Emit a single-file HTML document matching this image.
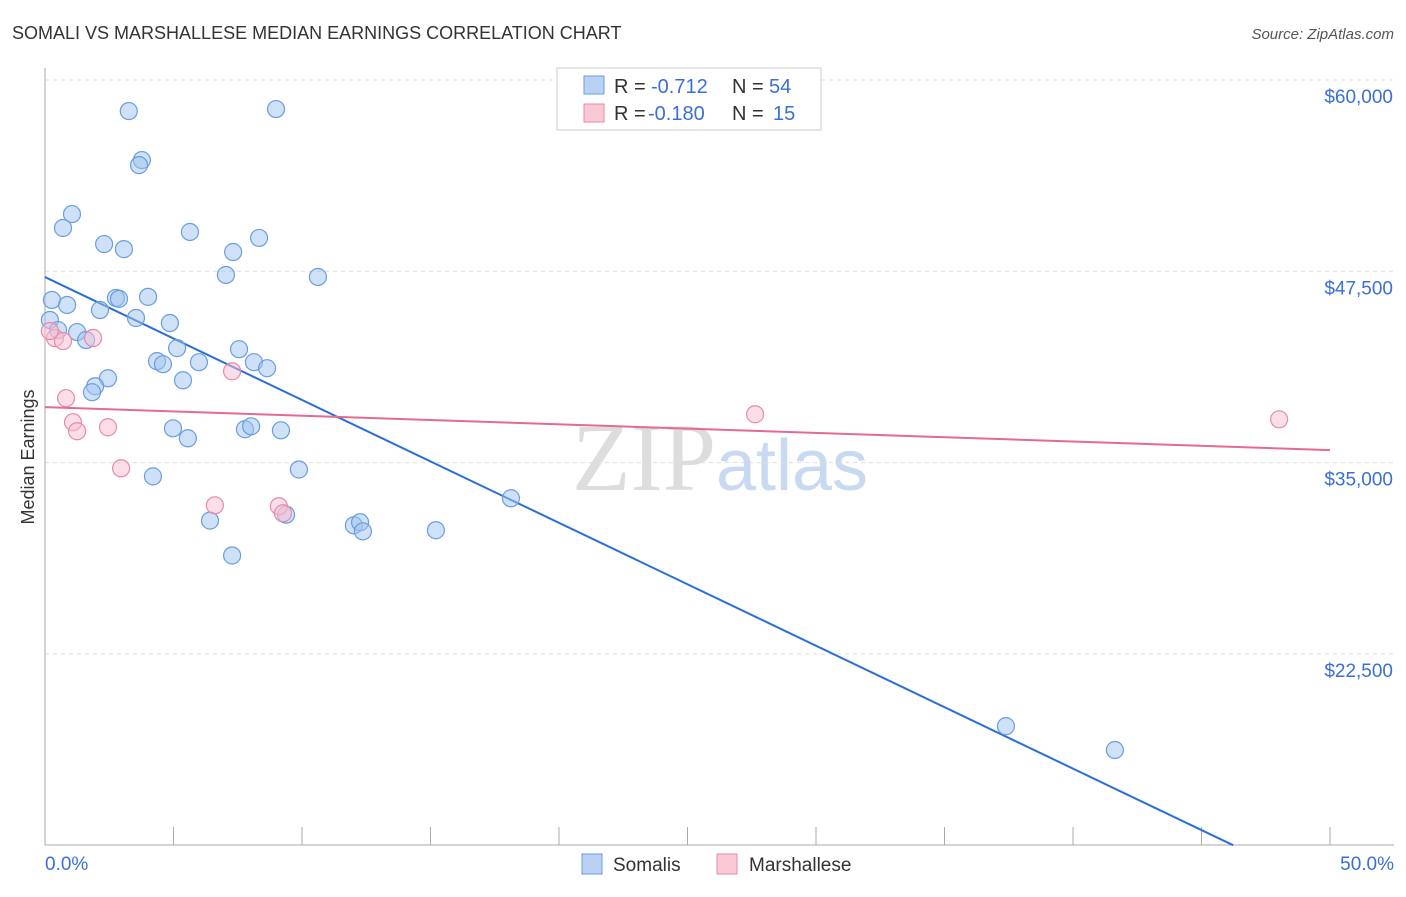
<!DOCTYPE html>
<html><head><meta charset="utf-8"><style>
body{margin:0;background:#fff;width:1406px;height:892px;overflow:hidden;font-family:"Liberation Sans",sans-serif}
</style></head><body>
<svg id="chart" width="1406" height="892" xmlns="http://www.w3.org/2000/svg" font-family="Liberation Sans, sans-serif">
<text x="12" y="39" font-size="18" fill="#333">SOMALI VS MARSHALLESE MEDIAN EARNINGS CORRELATION CHART</text>
<text x="1394" y="39" font-size="15" fill="#555" text-anchor="end" font-style="italic">Source: ZipAtlas.com</text>
<text transform="translate(34,457) rotate(-90)" font-size="18" fill="#333" text-anchor="middle">Median Earnings</text>
<text x="720" y="490" font-size="96" text-anchor="middle" fill="#ddd" font-family="Liberation Serif, serif">ZIP<tspan fill="#c8d9f2" font-family="Liberation Sans, sans-serif" font-size="72">atlas</tspan></text>
<g id="grid"></g><g id="axes"></g><g id="lines"></g><g id="dots"></g>
<g font-size="20">
<rect x="557" y="68" width="264" height="62" fill="#fff" stroke="#ccc"/>
<rect x="584" y="76" width="20" height="18" fill="#b9d1f3" stroke="#6a9de0"/>
<text x="614" y="93" fill="#333">R =</text><text x="651" y="93" fill="#3a6fd8">-0.712</text>
<text x="732" y="93" fill="#333">N =</text><text x="769" y="93" fill="#3a6fd8">54</text>
<rect x="584" y="104" width="20" height="18" fill="#f9c9d6" stroke="#e88aa6"/>
<text x="614" y="120" fill="#333">R =</text><text x="648" y="120" fill="#3a6fd8">-0.180</text>
<text x="732" y="120" fill="#333">N =</text><text x="773" y="120" fill="#3a6fd8">15</text>
</g>
<g>
<rect x="582" y="854" width="20" height="20" fill="#b9d1f3" stroke="#6a9de0"/>
<text x="613" y="871" font-size="19" fill="#333">Somalis</text>
<rect x="717" y="854" width="20" height="20" fill="#f9c9d6" stroke="#e88aa6"/>
<text x="749" y="871" font-size="19" fill="#333">Marshallese</text>
</g>
</svg>
<script>
const yTicks=[60000,47500,35000,22500];
const yTickLabels=["$60,000","$47,500","$35,000","$22,500"];
const xTickLabels=["0.0%","50.0%"];
const somaliX=[3.26,8.99,3.77,3.66,1.05,0.70,2.30,3.07,5.64,7.32,8.33,7.04,10.62,0.27,0.86,2.14,2.76,2.88,4.01,3.54,4.86,0.19,0.51,1.25,1.60,5.14,4.36,4.59,5.99,7.55,8.13,8.64,2.45,1.95,1.83,5.37,4.98,5.56,7.78,8.02,9.18,4.20,9.88,6.42,9.38,7.28,12.02,12.26,12.37,15.21,18.13,37.39,41.63];
const somaliY=[57970,58100,54770,54440,51240,50330,49280,48950,50070,48760,49680,47260,47130,45630,45300,44970,45760,45700,45830,44450,44120,44320,43660,43530,43010,42480,41630,41430,41560,42410,41560,41170,40510,39990,39600,40380,37240,36590,37180,37370,37110,34100,34550,31210,31600,28930,30900,31100,30510,30580,32670,17780,16220];
const marshX=[0.39,0.70,1.87,7.28,0.82,1.09,1.25,2.45,2.96,6.61,9.10,9.26,27.63,48.02,0.19];
const marshY=[43140,42940,43140,40970,39210,37640,37050,37310,34630,32210,32150,31690,38160,37830,43600];
const somaliFit=[47124,10000], somaliFitX=[0,46.23];
const marshFit=[38627,35816], marshFitX=[0,50];
const NS="http://www.w3.org/2000/svg";
const X=v=>45+v*25.7, Y=v=>80+(60000-v)/12500*191.3;
function mk(p,t,a){const e=document.createElementNS(NS,t);for(const k in a)e.setAttribute(k,a[k]);document.getElementById(p).appendChild(e);return e;}
yTicks.forEach((t,i)=>{
 const l=mk('grid','line',{x1:45,x2:1394,y1:Y(t),y2:Y(t),stroke:'#ddd','stroke-dasharray':'4,4'});
 
 
 const tx=mk('grid','text',{x:1393,y:Y(t)+23,'font-size':19,fill:'#3a6fd8','text-anchor':'end'});
 tx.textContent=yTickLabels[i];
 
 
});
const ya=mk('axes','line',{x1:45,x2:45,y1:68,y2:845,stroke:'#aaa'});


const xa=mk('axes','line',{x1:45,x2:1394,y1:845,y2:845,stroke:'#aaa'});


for(let i=0;i<=10;i++){
 const t=mk('axes','line',{x1:X(i*5),x2:X(i*5),y1:827,y2:845,stroke:'#aaa'});
 
 
}
[[0,'start',45],[50,'end',1394]].forEach((d,i)=>{
 const t=mk('axes','text',{x:d[2],y:870,'font-size':19,fill:'#3a6fd8','text-anchor':d[1]});
 t.textContent=xTickLabels[i];
 
 
});
somaliX.forEach((x,i)=>{
 const c=mk('dots','circle',{cx:X(x),cy:Y(somaliY[i]),r:8.5,fill:'rgba(160,195,240,0.5)',stroke:'#6a9de0','stroke-width':1.2});
 
 
});
marshX.forEach((x,i)=>{
 const c=mk('dots','circle',{cx:X(x),cy:Y(marshY[i]),r:8.5,fill:'rgba(248,190,210,0.5)',stroke:'#e88aa6','stroke-width':1.2});
 
 
});
const l1=mk('lines','line',{x1:X(somaliFitX[0]),y1:Y(somaliFit[0]),x2:X(somaliFitX[1]),y2:Y(somaliFit[1]),stroke:'#2a6fd6','stroke-width':2});


const l2=mk('lines','line',{x1:X(marshFitX[0]),y1:Y(marshFit[0]),x2:X(marshFitX[1]),y2:Y(marshFit[1]),stroke:'#e46a92','stroke-width':2});


</script>
</body></html>
